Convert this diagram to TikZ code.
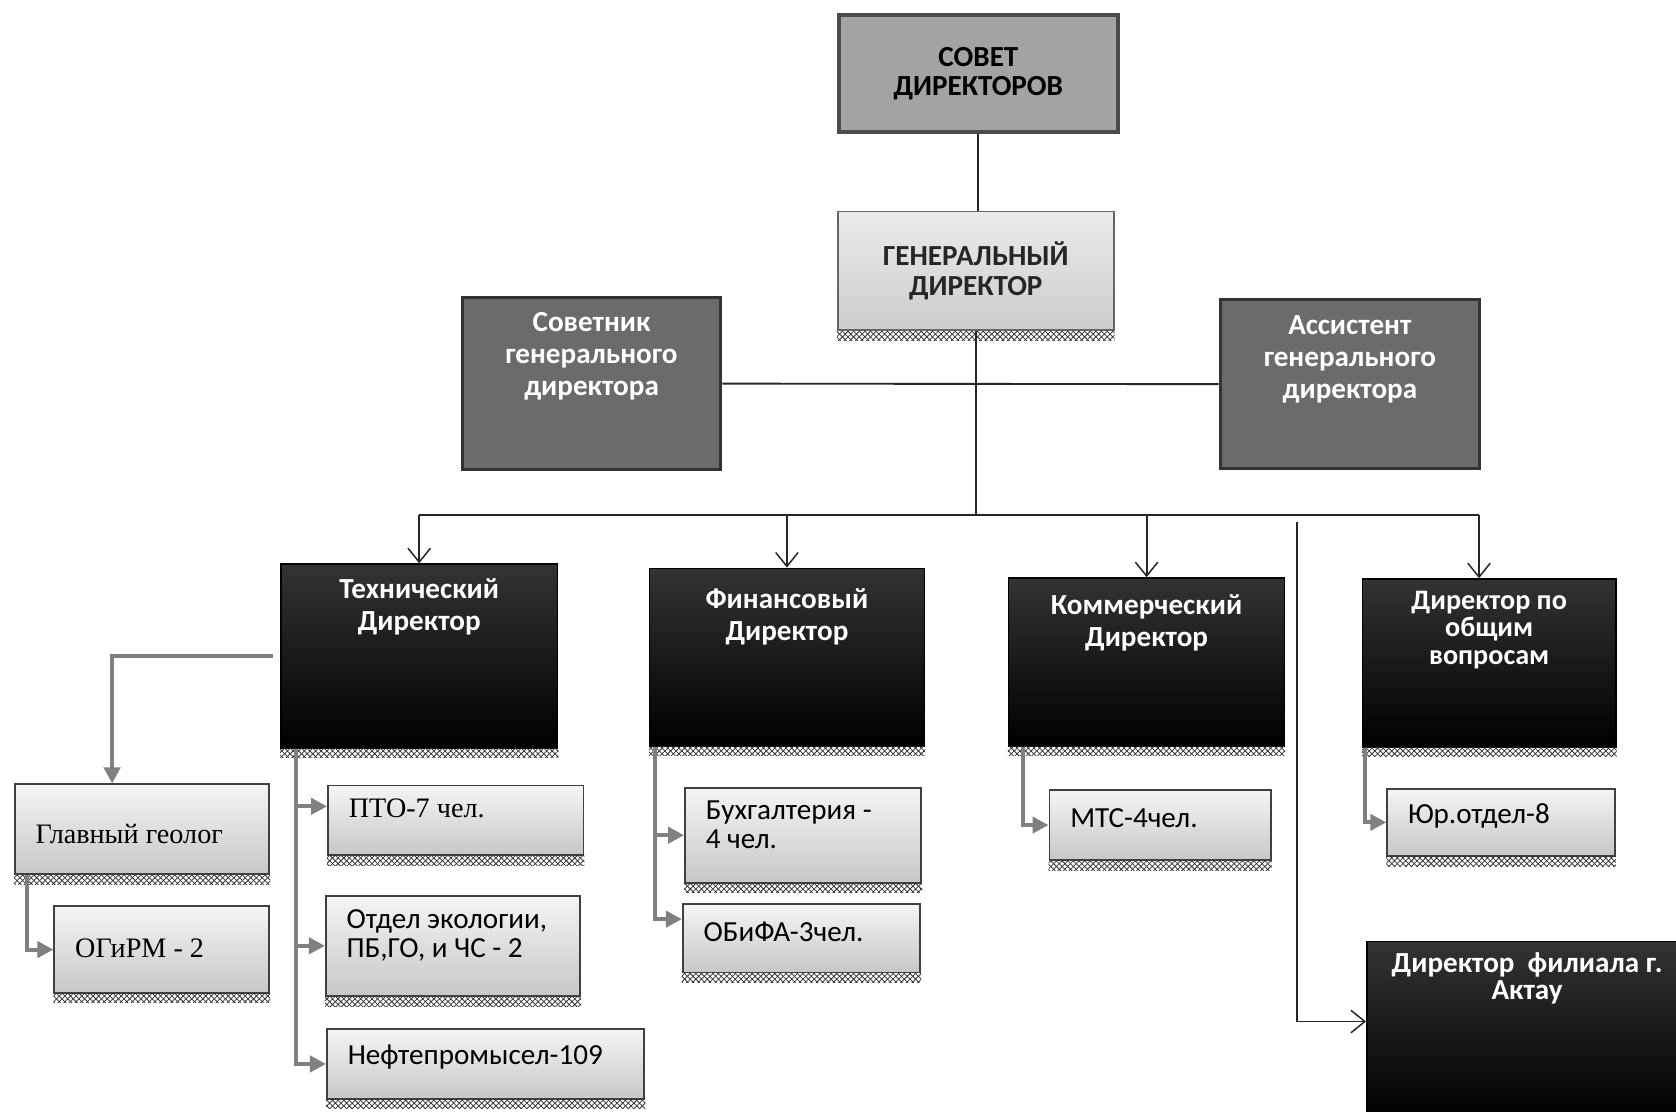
\documentclass[tikz,border=0pt]{standalone}
\usepackage{fontspec}
\setmainfont{Carlito}
\newfontfamily\timesfont{Liberation Serif}
\usetikzlibrary{positioning, arrows.meta, patterns}

\tikzset{
  boxsize/.style 2 args={minimum width=#1*0.02cm, minimum height=#2*0.02cm},
  boardbox/.style={draw=black!70, line width=2pt, fill=black!36, anchor=north west, align=center, inner sep=0pt, font=\fontsize{15.5}{15.5}\selectfont\bfseries},
  genbox/.style={draw=black!60, line width=1pt, top color=black!8, bottom color=black!20, anchor=north west, align=center, inner sep=0pt, text=black!85, font=\fontsize{15.5}{16}\selectfont\bfseries},
  advbox/.style={draw=black!80, line width=1.6pt, fill=black!58, anchor=north west},
  dirbox/.style={draw=black, line width=0.8pt, top color=black!80, bottom color=black, anchor=north west},
  unitbox/.style={draw=black!75, line width=1pt, top color=black!4, bottom color=black!22, anchor=north west},
  toptext/.style={anchor=north, align=center, inner sep=0pt, text=white, font=\fontsize{15.5}{17}\selectfont\bfseries},
  unittext/.style={anchor=west, xshift=0.4cm, yshift=0.12cm, align=left, inner sep=0pt, font=\fontsize{15.5}{15.5}\selectfont},
  unitserif/.style={unittext, font=\timesfont\fontsize{15}{17}\selectfont},
  hatch/.style={pattern=crosshatch, pattern color=black!80},
  link/.style={line width=1pt, draw=black!85},
  openarrow/.style={link, -{Straight Barb[length=0.26cm, width=0.42cm, line width=0.8pt]}},
  grayarrow/.style={line width=2.2pt, draw=black!50, -{Triangle[length=0.3cm, width=0.3cm]}}
}

\begin{document}
\begin{tikzpicture}[x=0.02cm, y=-0.02cm]
  \useasboundingbox (0,0) rectangle (1568,1040);
  \clip (0,0) rectangle (1568,1040);

  \node[boardbox, boxsize={261}{110}] (sovet) at (783,12) {СОВЕТ\\ДИРЕКТОРОВ};
  \node[genbox, boxsize={258}{111}] (gen) at (783,197) {ГЕНЕРАЛЬНЫЙ\\ДИРЕКТОР};
  \node[advbox, boxsize={242}{161}, label={[toptext, yshift=-0.3cm]north:Советник\\генерального\\директора}] (sovetnik) at (431,277) {};
  \node[advbox, boxsize={243}{158}, label={[toptext, yshift=-0.32cm]north:Ассистент\\генерального\\директора}] (assistent) at (1140,279) {};

  \node[dirbox, boxsize={259}{172}, label={[toptext, yshift=-0.28cm]north:Технический\\Директор}] (tech) at (262,527) {};
  \node[dirbox, boxsize={257}{166}, label={[toptext, yshift=-0.38cm]north:Финансовый\\Директор}] (fin) at (607,531) {};
  \node[dirbox, boxsize={258}{157}, label={[toptext, yshift=-0.32cm]north:Коммерческий\\Директор}] (komm) at (943,540) {};
  \node[dirbox, boxsize={237}{157}, label={[toptext, yshift=-0.24cm, font=\fontsize{15}{14.5}\selectfont\bfseries]north:Директор по\\общим\\вопросам}] (obsh) at (1274,541) {};
  \node[dirbox, boxsize={300}{165}, label={[toptext, yshift=-0.22cm, font=\fontsize{15.5}{14.5}\selectfont\bfseries]north:Директор~ филиала г.\\Актау}] (filial) at (1278,880) {};

  \node[unitbox, boxsize={238}{84}, label={[unitserif, yshift=-0.2cm]west:Главный геолог}] (geolog) at (13,733) {};
  \node[unitbox, boxsize={201}{81}, label={[unitserif, yshift=-0.1cm]west:ОГиРМ - 2}] (ogirm) at (50,847) {};
  \node[unitbox, boxsize={239}{65}, label={[unitserif, yshift=0.1cm]west:ПТО-7 чел.}] (pto) at (306,734) {};
  \node[unitbox, boxsize={238}{94}, label={[unittext, yshift=0.08cm]west:Отдел экологии,\\ПБ,ГО, и ЧС - 2}] (ekol) at (304,837) {};
  \node[unitbox, boxsize={297}{65}, label={[unittext]west:Нефтепромысел-109}] (neft) at (305,962) {};
  \node[unitbox, boxsize={221}{89}, label={[unittext, yshift=0.08cm]west:Бухгалтерия -\\4 чел.}] (buh) at (640,736) {};
  \node[unitbox, boxsize={222}{64}, label={[unittext]west:ОБиФА-3чел.}] (obifa) at (638,845) {};
  \node[unitbox, boxsize={207}{66}, label={[unittext]west:МТС-4чел.}] (mts) at (981,738) {};
  \node[unitbox, boxsize={213}{63}, label={[unittext]west:Юр.отдел-8}] (yur) at (1297,737) {};

  \foreach \n in {gen, tech, fin, komm, obsh, filial, geolog, ogirm, pto, ekol, neft, buh, obifa, mts, yur}
    \fill[hatch] (\n.south west) rectangle ([yshift=-0.17cm]\n.south east);

  \coordinate (bus) at (0,482);
  \coordinate (filtop) at (1213,488);
  \draw[link] (sovet.south) -- (sovet.south |- gen.north);
  \draw[link] (sovetnik.east) -- (assistent.west);
  \draw[link] (gen.south) -- (gen.south |- bus);
  \draw[link] (tech.north |- bus) -- ([xshift=-0.19cm]obsh.north |- bus);
  \foreach \n in {tech, fin, komm}
    \draw[openarrow] (\n.north |- bus) -- (\n.north);
  \draw[openarrow] ([xshift=-0.19cm]obsh.north |- bus) -- ([xshift=-0.19cm]obsh.north);
  \draw[openarrow] (filtop) |- ([yshift=0.15cm]filial.west);

  \coordinate (techtrunk) at ([xshift=0.3cm]tech.south west);
  \coordinate (fintrunk) at ([xshift=0.12cm]fin.south west);
  \coordinate (kommtrunk) at ([xshift=0.28cm]komm.south west);
  \coordinate (obshtrunk) at ([xshift=0.06cm]obsh.south west);
  \draw[grayarrow] ([xshift=-0.14cm]tech.west) -| ([xshift=-0.56cm]geolog.north);
  \draw[grayarrow] ([xshift=0.24cm]geolog.south west) |- (ogirm.west);
  \draw[grayarrow] (techtrunk) |- ([yshift=0.26cm]pto.west);
  \draw[grayarrow] (techtrunk) |- (ekol.west);
  \draw[grayarrow] (techtrunk) |- (neft.west);
  \draw[grayarrow] (fintrunk) |- (buh.west);
  \draw[grayarrow] (fintrunk) |- ([yshift=0.36cm]obifa.west);
  \draw[grayarrow] (kommtrunk) |- (mts.west);
  \draw[grayarrow] (obshtrunk) |- (yur.west);
\end{tikzpicture}
\end{document}
